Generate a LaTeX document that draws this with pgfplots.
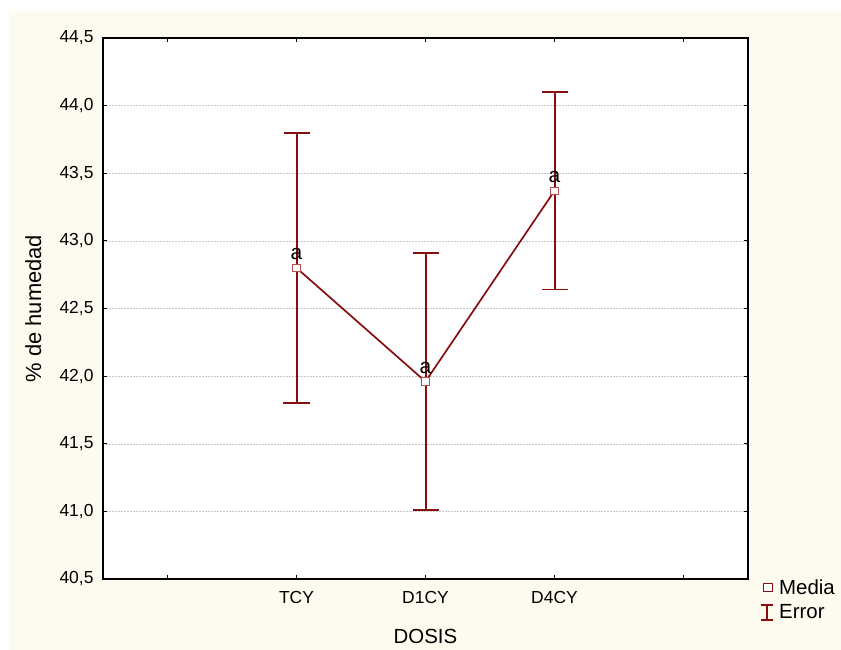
\documentclass[border=0pt]{standalone}
\usepackage{pgfplots}
\pgfplotsset{compat=1.18}
\usepackage{fontspec}
\setmainfont{Liberation Sans}
\definecolor{dred}{RGB}{135,14,14}
\definecolor{mred}{RGB}{180,80,80}
\definecolor{cream}{RGB}{253,250,240}
\begin{document}
\begin{tikzpicture}
\fill[white] (-103bp,-71bp) rectangle (738bp,579bp);
\fill[cream] (-94bp,-71bp) rectangle (738bp,567bp);
\begin{axis}[
  at={(0,0)}, anchor=south west,
  scale only axis, width=645bp, height=541bp,
  axis background/.style={fill=white},
  xmin=0.5, xmax=5.5, ymin=40.5, ymax=44.5,
  xtick={1,2,3,4,5}, xticklabels={,TCY,D1CY,D4CY,},
  ytick={40.5,41,41.5,42,42.5,43,43.5,44,44.5},
  /pgf/number format/.cd, use comma, fixed, fixed zerofill, precision=1, assume math mode=true,
  /pgfplots/.cd,
  tick align=inside, major tick length=4bp,
  tick style={black, line width=0.9bp},
  axis line style={black, line width=1.4bp},
  ymajorgrids,
  major grid style={draw=black!22, line width=0.5bp, dash pattern=on 2bp off 1bp},
  ticklabel style={font=\fontsize{17.5}{20}\selectfont},
  yticklabel style={xshift=-6bp},
  xticklabel style={yshift=-9bp},
  xlabel={DOSIS}, ylabel={\% de humedad},
  xlabel style={font=\fontsize{20.5}{24}\selectfont, at={(axis description cs:0.5,-0.107)}, anchor=center},
  ylabel style={font=\fontsize{22}{24}\selectfont, at={(axis description cs:-0.108,0.5)}, anchor=center},
  legend style={at={(axis description cs:1,0)}, anchor=north west, xshift=10bp, yshift=3bp,
    draw=none, fill=none, font=\fontsize{20.5}{24}\selectfont, row sep=5bp, column sep=0bp,
    legend cell align=left, inner sep=1bp, nodes={inner sep=2bp}},
]
\addplot[forget plot, dred, line width=1.7bp, mark=square*, mark size=3.8bp,
  mark options={fill=white, draw=mred, line width=1bp, solid},
  error bars/.cd, y dir=both, y explicit,
  error bar style={draw=dred, line width=2bp},
  error mark options={rotate=90, mark size=13bp, draw=dred, line width=1.8bp}]
  coordinates {
    (2,42.80) +- (0,1.00)
    (3,41.96) +- (0,0.95)
    (4,43.37) +- (0,0.73)
  };
\addplot[forget plot, draw=none, mark=none, nodes near coords={a},
  every node near coord/.append style={font=\fontsize{21}{24}\selectfont, anchor=base, yshift=8bp, black}]
  coordinates {(2,42.80) (3,41.96) (4,43.37)};
\addlegendimage{legend image code/.code={
  \path[draw=none, fill=none] (0bp,0bp) (18bp,0bp);
  \draw[dred, line width=1.2bp, fill=white] (4.5bp,-4.2bp) rectangle (12.9bp,4.2bp);}}
\addlegendentry{Media}
\addlegendimage{legend image code/.code={
  \path[draw=none, fill=none] (0bp,0bp) (18bp,0bp);
  \draw[dred, line width=1.5bp] (8bp,-7.5bp) -- (8bp,7.5bp)
    (2bp,-7.5bp) -- (14bp,-7.5bp) (2bp,7.5bp) -- (14bp,7.5bp);}}
\addlegendentry{Error}
\end{axis}
\pgfresetboundingbox
\useasboundingbox (-103bp,-71bp) rectangle (738bp,579bp);
\end{tikzpicture}
\end{document}
